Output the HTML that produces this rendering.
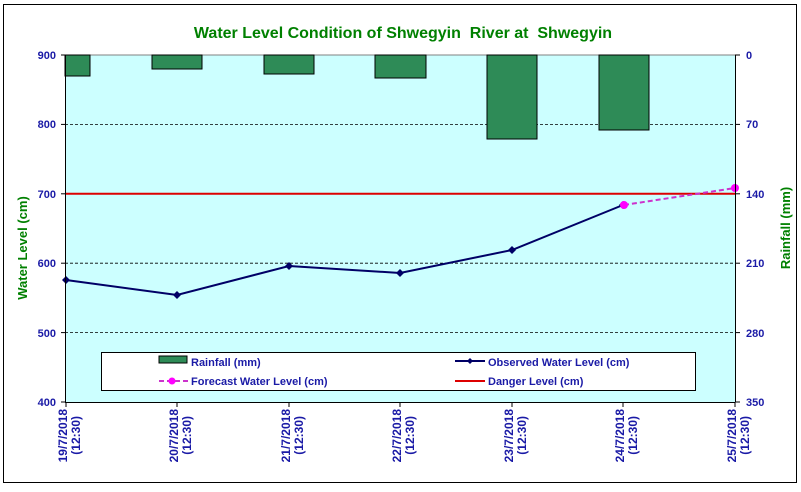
<!DOCTYPE html>
<html><head><meta charset="utf-8"><style>
body{margin:0;background:#fff}
svg text{font-family:"Liberation Sans",Arial,sans-serif;font-weight:bold;white-space:pre}
</style></head><body>
<svg width="801" height="487" xmlns="http://www.w3.org/2000/svg">
<rect x="0" y="0" width="801" height="487" fill="#fff"/>
<rect x="3.5" y="4.5" width="793" height="478" fill="#fff" stroke="#000" stroke-width="1"/>
<text x="403" y="38" text-anchor="middle" font-size="16" fill="#008000" xml:space="preserve">Water Level Condition of Shwegyin  River at  Shwegyin</text>
<rect x="65" y="55" width="670" height="347" fill="#ccffff"/>
<line x1="65" y1="55" x2="735" y2="55" stroke="#808080"/>
<g stroke="#000" stroke-dasharray="3,2" stroke-width="0.8">
<line x1="65" y1="124.4" x2="735" y2="124.4"/><line x1="65" y1="193.8" x2="735" y2="193.8"/>
<line x1="65" y1="263.2" x2="735" y2="263.2"/><line x1="65" y1="332.6" x2="735" y2="332.6"/>
</g>
<g fill="#2e8b57" stroke="#000" stroke-width="1">
<rect x="65" y="55" width="25" height="21"/>
<rect x="152" y="55" width="50" height="14"/>
<rect x="264" y="55" width="50" height="19"/>
<rect x="375" y="55" width="51" height="23"/>
<rect x="487" y="55" width="50" height="84"/>
<rect x="599" y="55" width="50" height="75"/>
</g>
<line x1="65" y1="193.8" x2="735" y2="193.8" stroke="#dd0000" stroke-width="2"/>
<polyline points="66,280 177,295 289,266 400,273 512,250 623,205" fill="none" stroke="#000066" stroke-width="2"/>
<g fill="#000066">
<path d="M66,276l4,4-4,4-4-4z"/><path d="M177,291l4,4-4,4-4-4z"/><path d="M289,262l4,4-4,4-4-4z"/>
<path d="M400,269l4,4-4,4-4-4z"/><path d="M512,246l4,4-4,4-4-4z"/><path d="M623,201l4,4-4,4-4-4z"/>
</g>
<line x1="624" y1="205" x2="735" y2="188" stroke="#cc33cc" stroke-width="2" stroke-dasharray="5,3"/>
<circle cx="624" cy="205" r="4" fill="#ff00ff"/><circle cx="735" cy="188" r="4" fill="#ff00ff"/>
<g stroke="#000" stroke-width="1">
<line x1="65.5" y1="55" x2="65.5" y2="402"/><line x1="735.5" y1="55" x2="735.5" y2="402"/>
<line x1="65" y1="402.5" x2="735" y2="402.5"/>
<line x1="61" y1="55" x2="65" y2="55"/><line x1="61" y1="124.4" x2="65" y2="124.4"/><line x1="61" y1="193.8" x2="65" y2="193.8"/><line x1="61" y1="263.2" x2="65" y2="263.2"/><line x1="61" y1="332.6" x2="65" y2="332.6"/><line x1="61" y1="402" x2="65" y2="402"/>
<line x1="735" y1="55" x2="740" y2="55"/><line x1="735" y1="124.4" x2="740" y2="124.4"/><line x1="735" y1="193.8" x2="740" y2="193.8"/><line x1="735" y1="263.2" x2="740" y2="263.2"/><line x1="735" y1="332.6" x2="740" y2="332.6"/><line x1="735" y1="402" x2="740" y2="402"/>
<line x1="66" y1="402" x2="66" y2="407"/><line x1="177" y1="402" x2="177" y2="407"/><line x1="289" y1="402" x2="289" y2="407"/><line x1="400" y1="402" x2="400" y2="407"/><line x1="512" y1="402" x2="512" y2="407"/><line x1="623" y1="402" x2="623" y2="407"/><line x1="735" y1="402" x2="735" y2="407"/>
</g>
<g font-size="11" fill="#1a1aa6" text-anchor="end">
<text x="56" y="59">900</text><text x="56" y="128">800</text><text x="56" y="198">700</text><text x="56" y="267">600</text><text x="56" y="337">500</text><text x="56" y="406">400</text>
</g>
<g font-size="11" fill="#1a1aa6">
<text x="746" y="59">0</text><text x="746" y="128">70</text><text x="746" y="198">140</text><text x="746" y="267">210</text><text x="746" y="337">280</text><text x="746" y="406">350</text>
</g>
<text transform="translate(27,248) rotate(-90)" text-anchor="middle" font-size="13" fill="#008000">Water Level (cm)</text>
<text transform="translate(790,228) rotate(-90)" text-anchor="middle" font-size="13" fill="#008000">Rainfall (mm)</text>
<g font-size="12" fill="#1a1aa6" text-anchor="end">
<g transform="translate(67,409) rotate(-90)"><text x="0" y="0">19/7/2018</text><text x="-7" y="13">(12:30)</text></g>
<g transform="translate(178,409) rotate(-90)"><text x="0" y="0">20/7/2018</text><text x="-7" y="13">(12:30)</text></g>
<g transform="translate(290,409) rotate(-90)"><text x="0" y="0">21/7/2018</text><text x="-7" y="13">(12:30)</text></g>
<g transform="translate(401,409) rotate(-90)"><text x="0" y="0">22/7/2018</text><text x="-7" y="13">(12:30)</text></g>
<g transform="translate(513,409) rotate(-90)"><text x="0" y="0">23/7/2018</text><text x="-7" y="13">(12:30)</text></g>
<g transform="translate(624,409) rotate(-90)"><text x="0" y="0">24/7/2018</text><text x="-7" y="13">(12:30)</text></g>
<g transform="translate(736,409) rotate(-90)"><text x="0" y="0">25/7/2018</text><text x="-7" y="13">(12:30)</text></g>
</g>
<rect x="101.5" y="352.5" width="594" height="38" fill="#fff" stroke="#000"/>
<rect x="159" y="356" width="28" height="7" fill="#2e8b57" stroke="#000"/>
<text x="191" y="366" font-size="11" fill="#1a1aa6">Rainfall (mm)</text>
<line x1="159" y1="381" x2="188" y2="381" stroke="#cc33cc" stroke-width="2" stroke-dasharray="5,3"/>
<circle cx="172" cy="381" r="3.5" fill="#ff00ff"/>
<text x="191" y="385" font-size="11" fill="#1a1aa6">Forecast Water Level (cm)</text>
<line x1="455" y1="361" x2="485" y2="361" stroke="#000066" stroke-width="2"/>
<path d="M470,358l3,3-3,3-3-3z" fill="#000066"/>
<text x="488" y="366" font-size="11" fill="#1a1aa6">Observed Water Level (cm)</text>
<line x1="455" y1="381" x2="485" y2="381" stroke="#dd0000" stroke-width="2"/>
<text x="488" y="385" font-size="11" fill="#1a1aa6">Danger Level (cm)</text>
</svg>
</body></html>
